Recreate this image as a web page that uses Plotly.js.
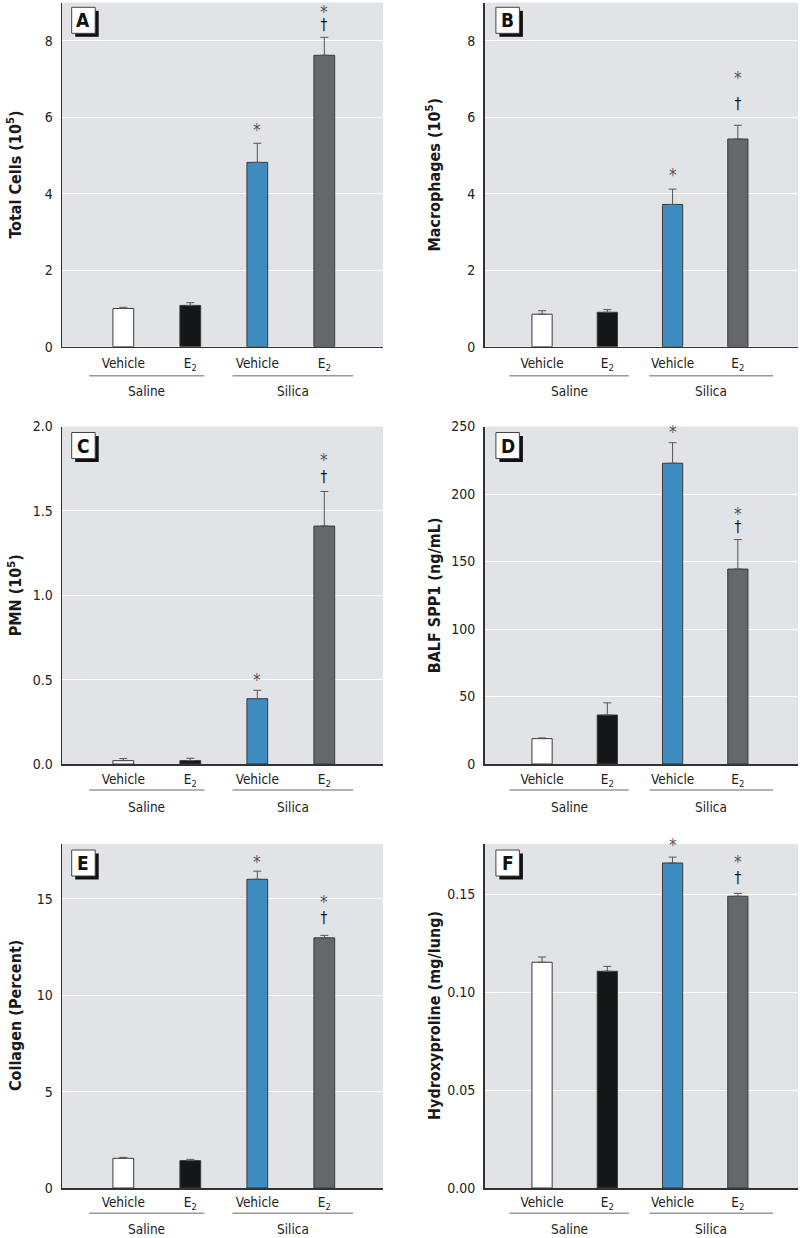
<!DOCTYPE html>
<html>
<head>
<meta charset="utf-8">
<script src="https://cdn.plot.ly/plotly-3.0.1.min.js"></script>
<style>html,body{margin:0;padding:0;background:#fff;}#chart{width:800px;height:1238px;}</style>
</head>
<body>
<div id="chart"></div>
<script>
// ---------- data ----------
const categories = ['Vehicle', 'E<sub>2</sub>', 'Vehicle', 'E<sub>2</sub>'];
const groupNames = ['Saline', 'Silica'];
const barColors = ['#ffffff', '#151617', '#3d8bbf', '#65686a'];

const totalCellsMean = [1.00, 1.08, 4.82, 7.62];
const totalCellsErr  = [0.03, 0.07, 0.50, 0.47];
const macrophagesMean = [0.85, 0.90, 3.72, 5.43];
const macrophagesErr  = [0.09, 0.07, 0.40, 0.36];
const pmnMean = [0.020, 0.020, 0.387, 1.41];
const pmnErr  = [0.012, 0.014, 0.050, 0.205];
const spp1Mean = [18.8, 36.3, 222.8, 144.4];
const spp1Err  = [0.5, 9.0, 15.2, 21.8];
const collagenMean = [1.54, 1.42, 16.02, 12.98];
const collagenErr  = [0.05, 0.07, 0.42, 0.13];
const hypMean = [0.1153, 0.1107, 0.166, 0.149];
const hypErr  = [0.0027, 0.0025, 0.003, 0.0015];

// significance marks: * vs saline vehicle, † vs silica vehicle
const starA = [0,0,1,1], dagA = [0,0,0,1];
const starB = [0,0,1,1], dagB = [0,0,0,1];
const starC = [0,0,1,1], dagC = [0,0,0,1];
const starD = [0,0,1,1], dagD = [0,0,0,1];
const starE = [0,0,1,1], dagE = [0,0,0,1];
const starF = [0,0,1,1], dagF = [0,0,0,1];

// ---------- layout helpers ----------
const W = 800, H = 1238;
const FONT = '"Liberation Sans Narrow", "DejaVu Sans Condensed", "Arial Narrow", sans-serif';
const TICK_SIZE = 13.5;
const px = p => p / W;
const py = p => 1 - p / H;

const rows = [
  {top: 2.5, bottom: 346.7, ticklen: 4, lineOff: 29, labelOff: 44},
  {top: 426.5, bottom: 764, ticklen: 2, lineOff: 26, labelOff: 42.5},
  {top: 844, bottom: 1188, ticklen: 1, lineOff: 25.3, labelOff: 40.5}
];
const cols = [
  {left: 62, right: 383, xr: [-0.915, 3.876], titleX: 15, lines: [[-0.51, 1.21], [1.63, 3.43]], boxOff: 9.7},
  {left: 484.5, right: 798, xr: [-0.882, 3.922], titleX: 434, lines: [[-0.50, 1.33], [1.645, 3.54]], boxOff: 11.4}
];

const panels = [
  {letter: 'A', row: 0, col: 0, mean: totalCellsMean, err: totalCellsErr, star: starA, dag: dagA,
   title: '<b>Total Cells (10<sup>5</sup>)</b>', range: [0, 9], dtick: 2, fmt: 'd', sh: [16, 12, 26.5], boxTop: 4.8},
  {letter: 'B', row: 0, col: 1, mean: macrophagesMean, err: macrophagesErr, star: starB, dag: dagB,
   title: '<b>Macrophages (10<sup>5</sup>)</b>', range: [0, 9], dtick: 2, fmt: 'd', sh: [17, 20, 48], boxTop: 4.8},
  {letter: 'C', row: 1, col: 0, mean: pmnMean, err: pmnErr, star: starC, dag: dagC,
   title: '<b>PMN (10<sup>5</sup>)</b>', range: [0, 2], dtick: 0.5, fmt: '.1f', sh: [13, 13, 32], boxTop: 6},
  {letter: 'D', row: 1, col: 1, mean: spp1Mean, err: spp1Err, star: starD, dag: dagD,
   title: '<b>BALF SPP1 (ng/mL)</b>', range: [0, 250], dtick: 50, fmt: 'd', sh: [14, 12, 27], boxTop: 6},
  {letter: 'E', row: 2, col: 0, mean: collagenMean, err: collagenErr, star: starE, dag: dagE,
   title: '<b>Collagen (Percent)</b>', range: [0, 17.85], dtick: 5, fmt: 'd', sh: [12, 16, 34], boxTop: 6},
  {letter: 'F', row: 2, col: 1, mean: hypMean, err: hypErr, star: starF, dag: dagF,
   title: '<b>Hydroxyproline (mg/lung)</b>', range: [0, 0.1757], dtick: 0.05, fmt: '.2f', sh: [15, 14, 32], boxTop: 6}
];

const data = [];
const layout = {
  width: W, height: H,
  margin: {l: 0, r: 0, t: 0, b: 0},
  paper_bgcolor: '#ffffff',
  plot_bgcolor: '#e2e3e6',
  showlegend: false,
  font: {family: FONT, size: TICK_SIZE, color: '#222'},
  shapes: [], annotations: []
};

const idx = [0, 1, 2, 3];
const STAR = '<span style="font-size:17px;color:#555555">*</span>';
const DAG = '<span style="font-size:15px;color:#111111">†</span>';

panels.forEach((p, i) => {
  const n = i + 1;
  const xa = 'xaxis' + (n === 1 ? '' : n), ya = 'yaxis' + (n === 1 ? '' : n);
  const xr = 'x' + (n === 1 ? '' : n), yr = 'y' + (n === 1 ? '' : n);
  const c = cols[p.col], r = rows[p.row];

  data.push({
    type: 'bar', x: idx, y: p.mean, xaxis: xr, yaxis: yr, width: 0.31,
    marker: {color: barColors, line: {color: '#3a3a3a', width: 1}},
    error_y: {type: 'data', symmetric: false, array: p.err, arrayminus: p.err.map(() => 0),
              color: '#555', thickness: 1, width: 4},
    hoverinfo: 'y', cliponaxis: false
  });

  layout[xa] = {
    domain: [px(c.left), px(c.right)], range: c.xr, anchor: yr,
    tickvals: idx, ticktext: categories, tickfont: {family: FONT, size: TICK_SIZE, color: '#222'},
    ticks: 'outside', ticklen: r.ticklen, tickcolor: 'rgba(0,0,0,0)',
    showgrid: false, zeroline: false, showline: true, linecolor: '#333', linewidth: 1.5
  };
  layout[ya] = {
    domain: [py(r.bottom), py(r.top)], range: p.range, anchor: xr,
    dtick: p.dtick, tick0: 0, tickformat: p.fmt,
    tickfont: {family: FONT, size: TICK_SIZE + 0.5, color: '#222'},
    ticks: 'outside', ticklen: 5, tickcolor: 'rgba(0,0,0,0)',
    showgrid: true, gridcolor: '#ffffff', gridwidth: 1,
    zeroline: false, showline: true, linecolor: '#333', linewidth: 1.5
  };

  // y-axis title
  layout.annotations.push({
    xref: 'paper', yref: 'paper', x: px(c.titleX), y: py((r.top + r.bottom) / 2),
    text: p.title, textangle: -90, showarrow: false, xanchor: 'center', yanchor: 'middle',
    font: {family: FONT, size: 16, color: '#1a1a1a'}
  });

  // group lines and labels
  groupNames.forEach((g, gi) => {
    const [a, b] = c.lines[gi];
    layout.shapes.push({
      type: 'line', xref: xr, yref: 'paper', x0: a, x1: b,
      y0: py(r.bottom + r.lineOff), y1: py(r.bottom + r.lineOff),
      line: {color: '#9a9a9a', width: 1.5}
    });
    layout.annotations.push({
      xref: xr, yref: 'paper', x: (a + b) / 2, y: py(r.bottom + r.labelOff),
      text: g, showarrow: false, xanchor: 'center', yanchor: 'middle',
      font: {family: FONT, size: TICK_SIZE, color: '#222'}
    });
  });

  // significance marks (star alone, or star above dagger in one text)
  idx.forEach(k => {
    const top = p.mean[k] + p.err[k];
    if (p.star[k] && p.dag[k]) {
      const gap = (p.sh[2] - 3) - p.sh[1];
      layout.annotations.push({
        xref: xr, yref: yr, x: k, y: top, text: STAR + '<br>' + DAG, showarrow: false,
        xanchor: 'center', yanchor: 'middle', yshift: (p.sh[1] + p.sh[2] - 3) / 2 + 2,
        font: {family: FONT, size: gap / 1.3, color: '#111'}
      });
    } else if (p.star[k]) {
      layout.annotations.push({
        xref: xr, yref: yr, x: k, y: top, text: STAR, showarrow: false,
        xanchor: 'center', yanchor: 'middle', yshift: p.sh[0] - 3,
        font: {family: FONT, size: 15, color: '#555'}
      });
    } else if (p.dag[k]) {
      layout.annotations.push({
        xref: xr, yref: yr, x: k, y: top, text: DAG, showarrow: false,
        xanchor: 'center', yanchor: 'middle', yshift: p.sh[1],
        font: {family: FONT, size: 15, color: '#111'}
      });
    }
  });

  // panel letter box with shadow
  const bx0 = c.left + c.boxOff, by0 = r.top + p.boxTop, bw = 23.5, bh = 26, so = 3.5;
  layout.shapes.push({
    type: 'rect', xref: 'paper', yref: 'paper',
    x0: px(bx0 + so), x1: px(bx0 + bw + so), y0: py(by0 + bh + so), y1: py(by0 + so),
    fillcolor: '#111', line: {width: 0}
  });
  layout.shapes.push({
    type: 'rect', xref: 'paper', yref: 'paper',
    x0: px(bx0), x1: px(bx0 + bw), y0: py(by0 + bh), y1: py(by0),
    fillcolor: '#ffffff', line: {color: '#444', width: 1}
  });
  layout.annotations.push({
    xref: 'paper', yref: 'paper', x: px(bx0 + bw / 2), y: py(by0 + bh / 2),
    text: '<b>' + p.letter + '</b>', showarrow: false, xanchor: 'center', yanchor: 'middle',
    font: {family: FONT, size: 19, color: '#111'}
  });
});

Plotly.newPlot('chart', data, layout, {staticPlot: true, displayModeBar: false});
</script>
</body>
</html>
